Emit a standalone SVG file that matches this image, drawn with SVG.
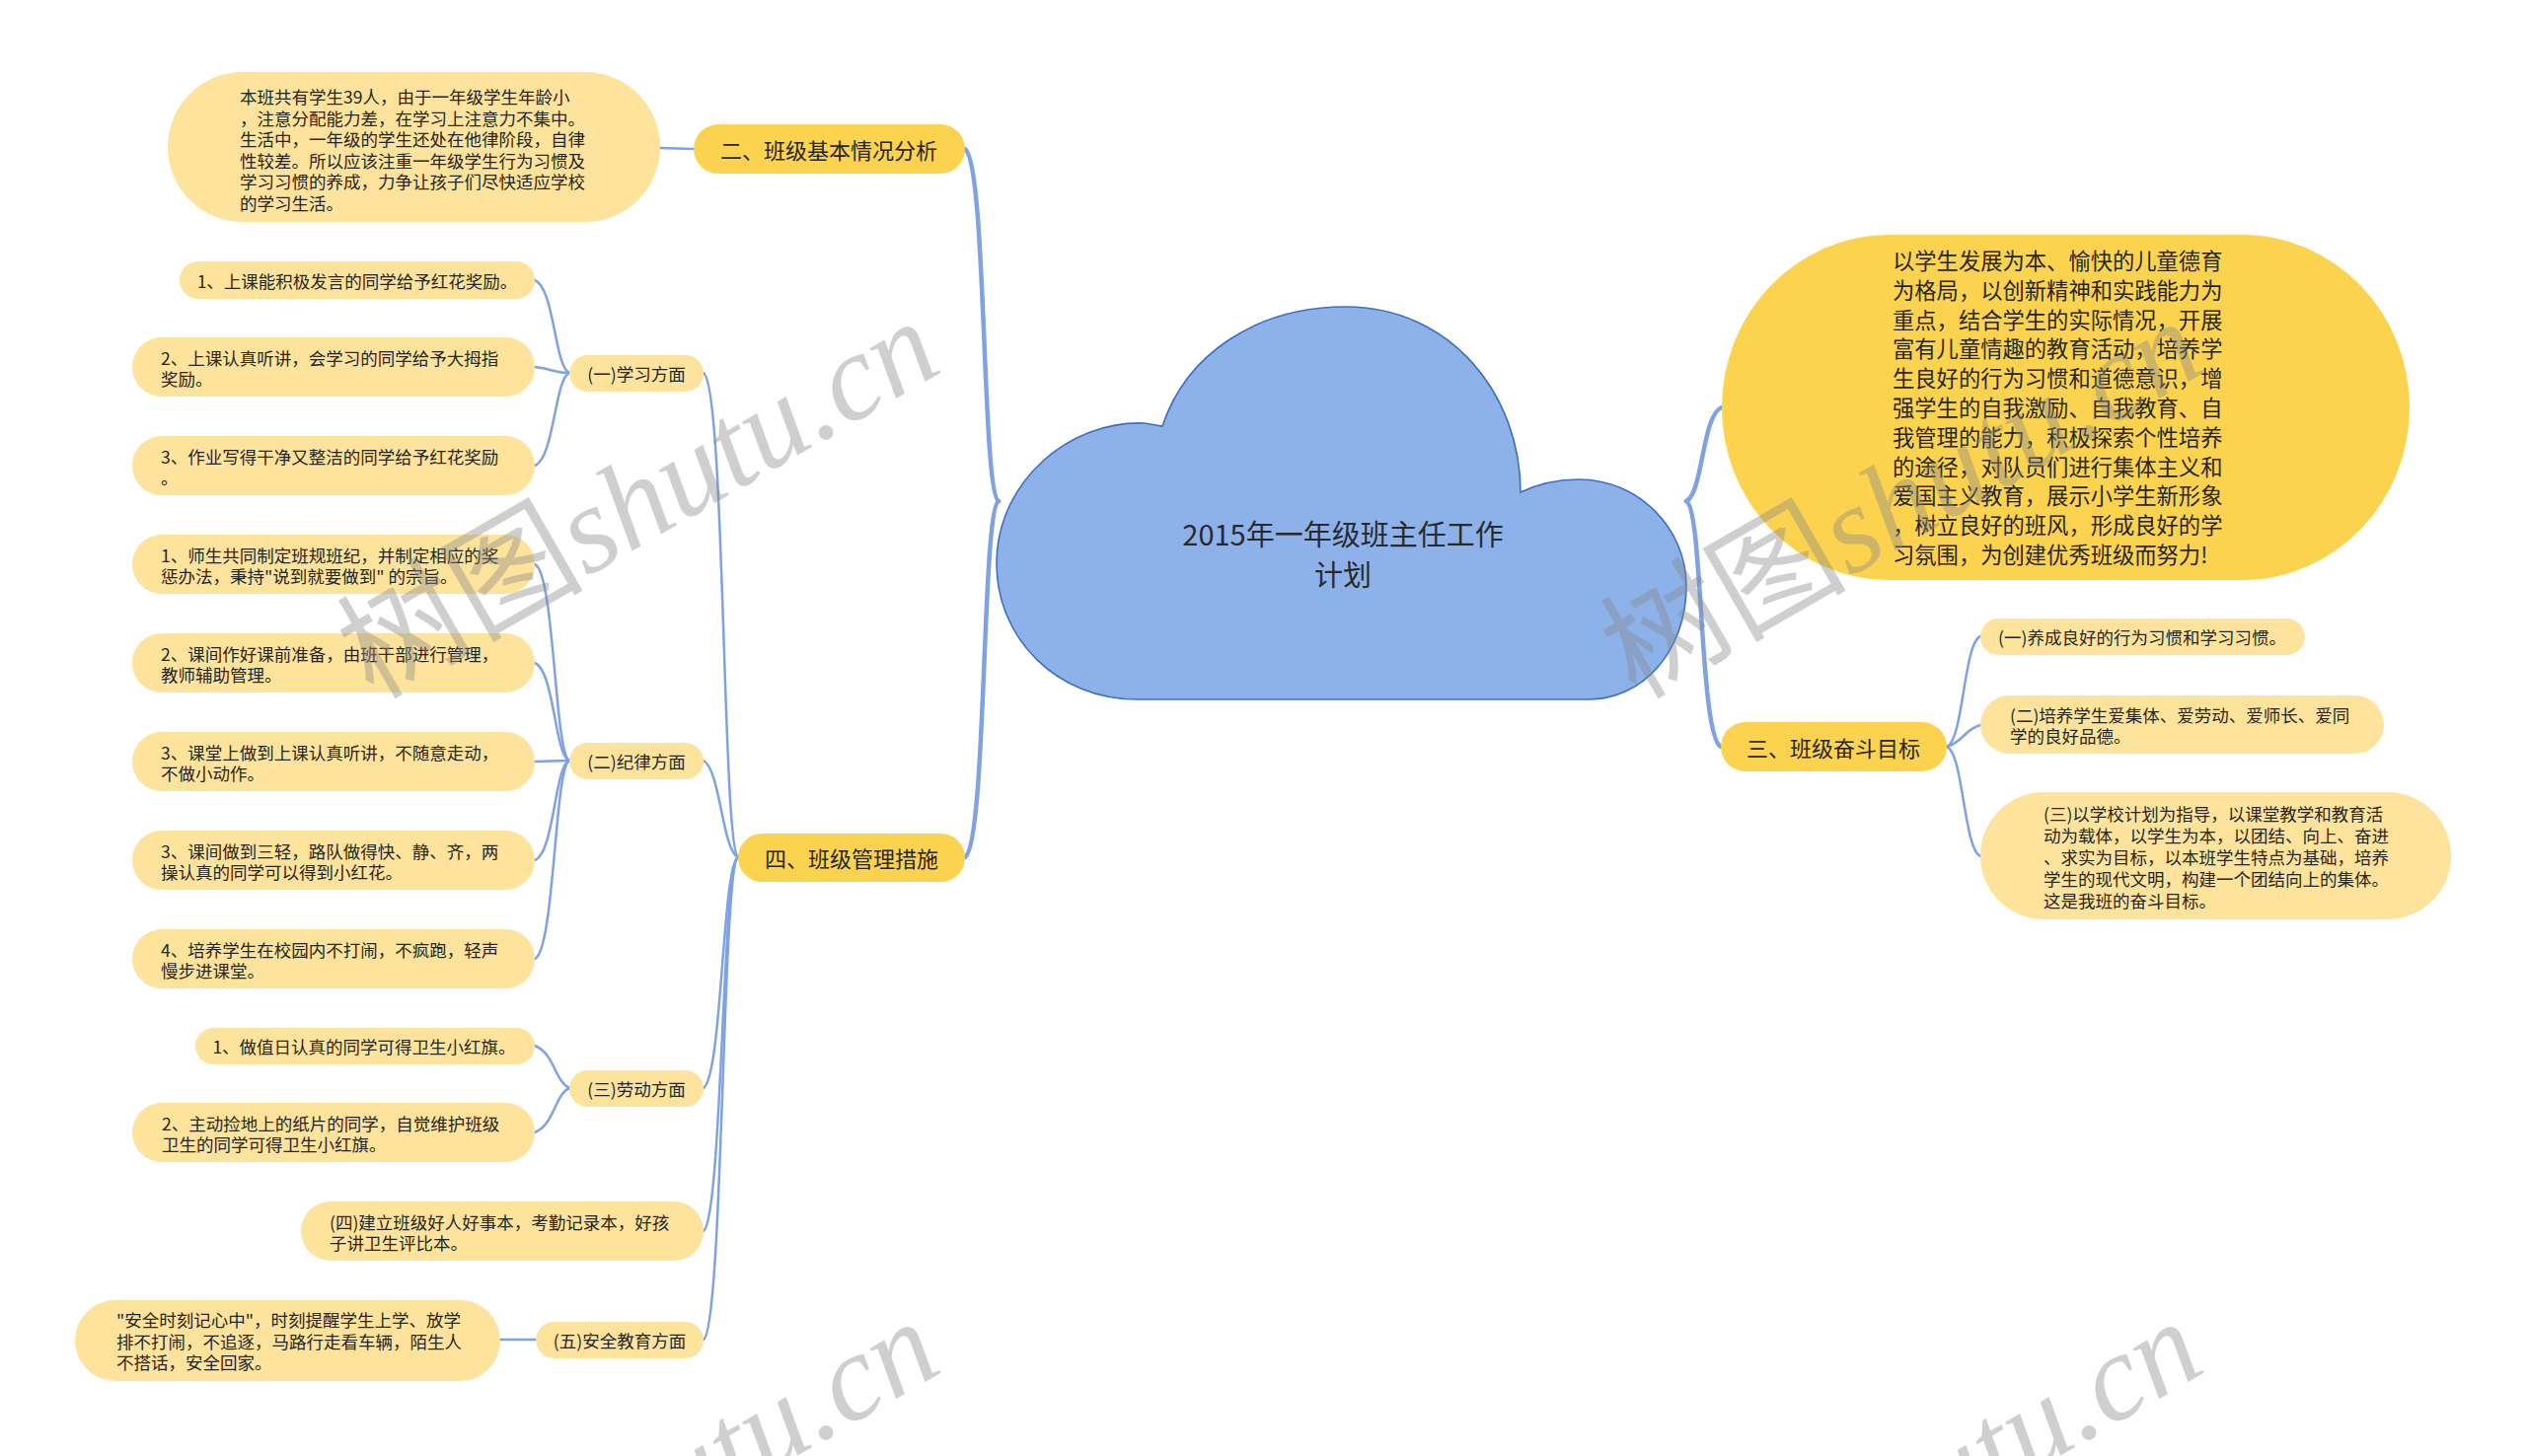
<svg xmlns="http://www.w3.org/2000/svg" width="2560" height="1476" viewBox="0 0 2560 1476">
<style>
.t{font-family:"Noto Sans CJK SC","Noto Sans",sans-serif;fill:#262626}
.s{font-size:17.5px}
.m{font-size:22px}
.p{font-size:22.3px}
.c{font-size:29px;fill:#2a2a2a}
.mid{text-anchor:middle}
.main{fill:#fcd34f}
.sub{fill:#fde39b}
.lk{fill:none;stroke:#7ea2e3;stroke-width:2.5;stroke-linecap:round}
.lk1{fill:none;stroke:#7ea2e3;stroke-width:4.5;stroke-linecap:round}
.wm{font-size:125px;fill:#8a8a8a;opacity:0.4}
</style>
<rect width="2560" height="1476" fill="#ffffff"/>
<g id="connectors">
<path class="lk1" d="M1012 508 C995 500 1000 165 978 151"/>
<path class="lk1" d="M1012 508 C995 516 1000 855 978 869"/>
<path class="lk1" d="M1709 508 C1726 500 1725 420 1745 413"/>
<path class="lk1" d="M1709 508 C1726 516 1722 745 1744 757"/>
<path class="lk" d="M703 151 L669 150"/>
<path class="lk" d="M748 869 C732 860 735 392 713 378"/>
<path class="lk" d="M748 869 C732 862 730 780 713 771"/>
<path class="lk" d="M748 869 C732 876 732 1090 713 1103"/>
<path class="lk" d="M748 869 C732 876 732 1235 713 1248"/>
<path class="lk" d="M748 869 C732 876 733 1345 713 1358"/>
<path class="lk" d="M577 378 C562 372 562 292 542 284"/>
<path class="lk" d="M577 378 C562 378 560 374 542 372"/>
<path class="lk" d="M577 378 C562 384 562 464 542 472"/>
<path class="lk" d="M577 771 C562 764 562 580 542 572"/>
<path class="lk" d="M577 771 C562 766 562 680 542 672"/>
<path class="lk" d="M577 771 L542 772"/>
<path class="lk" d="M577 771 C562 776 562 864 542 872"/>
<path class="lk" d="M577 771 C562 778 562 964 542 972"/>
<path class="lk" d="M577 1103 C562 1096 562 1068 542 1060"/>
<path class="lk" d="M577 1103 C562 1110 562 1140 542 1148"/>
<path class="lk" d="M543 1358 L507 1358"/>
<path class="lk" d="M1973 757 C1990 750 1990 652 2007 645"/>
<path class="lk" d="M1973 757 C1990 752 1990 740 2007 735"/>
<path class="lk" d="M1973 757 C1990 764 1990 860 2007 868"/>
</g>
<g id="root">
<path d="M1152 709 C1072 709 1010 648 1010 571 C1010 490 1082 426 1160 429 L1178 432 C1202 360 1272 311 1364 311 C1470 311 1541 400 1541 499 C1560 490 1580 486 1600 486 C1660 486 1709 535 1709 594 C1709 660 1665 709 1610 709 Z" fill="#8db2ea" stroke="#3d6fc1" stroke-width="1.6"/>
<text class="t c mid" dominant-baseline="central"><tspan x="1361" y="540">2015年一年级班主任工作</tspan><tspan x="1361" y="581">计划</tspan></text>
</g>
<g id="n-er">
<rect class="main" x="703" y="126" width="275" height="50" rx="25"/>
<text class="t m mid" x="840" y="151" dominant-baseline="central">二、班级基本情况分析</text>
</g>
<g id="n-er-detail">
<rect class="sub" x="170" y="73" width="499" height="152" rx="76"/>
<text class="t s" dominant-baseline="central"><tspan x="243" y="97">本班共有学生39人，由于一年级学生年龄小</tspan><tspan x="243" y="118.6">，注意分配能力差，在学习上注意力不集中。</tspan><tspan x="243" y="140.2">生活中，一年级的学生还处在他律阶段，自律</tspan><tspan x="243" y="161.8">性较差。所以应该注重一年级学生行为习惯及</tspan><tspan x="243" y="183.4">学习习惯的养成，力争让孩子们尽快适应学校</tspan><tspan x="243" y="205">的学习生活。</tspan></text>
</g>
<g id="n-si">
<rect class="main" x="748" y="845" width="230" height="49" rx="24.5"/>
<text class="t m mid" x="863" y="869" dominant-baseline="central">四、班级管理措施</text>
</g>
<g id="n-xuexi">
<rect class="sub" x="577" y="360" width="136" height="37" rx="18.5"/>
<text class="t s mid" x="645" y="378.5" dominant-baseline="central">(一)学习方面</text>
</g>
<g id="n-xuexi-1">
<rect class="sub" x="182" y="265" width="360" height="38" rx="19"/>
<text class="t s mid" x="362" y="284" dominant-baseline="central">1、上课能积极发言的同学给予红花奖励。</text>
</g>
<g id="n-xuexi-2">
<rect class="sub" x="134" y="342" width="408" height="60" rx="30"/>
<text class="t s" dominant-baseline="central"><tspan x="163" y="361.5">2、上课认真听讲，会学习的同学给予大拇指</tspan><tspan x="163" y="383">奖励。</tspan></text>
</g>
<g id="n-xuexi-3">
<rect class="sub" x="134" y="442" width="408" height="60" rx="30"/>
<text class="t s" dominant-baseline="central"><tspan x="163" y="461.5">3、作业写得干净又整洁的同学给予红花奖励</tspan><tspan x="163" y="483">。</tspan></text>
</g>
<g id="n-jilv">
<rect class="sub" x="577" y="753" width="136" height="37" rx="18.5"/>
<text class="t s mid" x="645" y="771.5" dominant-baseline="central">(二)纪律方面</text>
</g>
<g id="n-jilv-1">
<rect class="sub" x="134" y="542" width="408" height="60" rx="30"/>
<text class="t s" dominant-baseline="central"><tspan x="163" y="561.5">1、师生共同制定班规班纪，并制定相应的奖</tspan><tspan x="163" y="583">惩办法，秉持"说到就要做到" 的宗旨。</tspan></text>
</g>
<g id="n-jilv-2">
<rect class="sub" x="134" y="642" width="408" height="60" rx="30"/>
<text class="t s" dominant-baseline="central"><tspan x="163" y="661.5">2、课间作好课前准备，由班干部进行管理，</tspan><tspan x="163" y="683">教师辅助管理。</tspan></text>
</g>
<g id="n-jilv-3">
<rect class="sub" x="134" y="742" width="408" height="60" rx="30"/>
<text class="t s" dominant-baseline="central"><tspan x="163" y="761.5">3、课堂上做到上课认真听讲，不随意走动，</tspan><tspan x="163" y="783">不做小动作。</tspan></text>
</g>
<g id="n-jilv-4">
<rect class="sub" x="134" y="842" width="408" height="60" rx="30"/>
<text class="t s" dominant-baseline="central"><tspan x="163" y="861.5">3、课间做到三轻，路队做得快、静、齐，两</tspan><tspan x="163" y="883">操认真的同学可以得到小红花。</tspan></text>
</g>
<g id="n-jilv-5">
<rect class="sub" x="134" y="942" width="408" height="60" rx="30"/>
<text class="t s" dominant-baseline="central"><tspan x="163" y="961.5">4、培养学生在校园内不打闹，不疯跑，轻声</tspan><tspan x="163" y="983">慢步进课堂。</tspan></text>
</g>
<g id="n-laodong">
<rect class="sub" x="577" y="1085" width="136" height="37" rx="18.5"/>
<text class="t s mid" x="645" y="1103.5" dominant-baseline="central">(三)劳动方面</text>
</g>
<g id="n-laodong-1">
<rect class="sub" x="198" y="1042" width="344" height="37" rx="18.5"/>
<text class="t s mid" x="369" y="1060.5" dominant-baseline="central">1、做值日认真的同学可得卫生小红旗。</text>
</g>
<g id="n-laodong-2">
<rect class="sub" x="134" y="1118" width="408" height="60" rx="30"/>
<text class="t s" dominant-baseline="central"><tspan x="164" y="1137.5">2、主动捡地上的纸片的同学，自觉维护班级</tspan><tspan x="164" y="1159">卫生的同学可得卫生小红旗。</tspan></text>
</g>
<g id="n-si-4">
<rect class="sub" x="305" y="1218" width="408" height="60" rx="30"/>
<text class="t s" dominant-baseline="central"><tspan x="334" y="1237.5">(四)建立班级好人好事本，考勤记录本，好孩</tspan><tspan x="334" y="1259">子讲卫生评比本。</tspan></text>
</g>
<g id="n-anquan">
<rect class="sub" x="543" y="1340" width="170" height="37" rx="18.5"/>
<text class="t s mid" x="628" y="1358.5" dominant-baseline="central">(五)安全教育方面</text>
</g>
<g id="n-anquan-1">
<rect class="sub" x="76" y="1318" width="431" height="82" rx="41"/>
<text class="t s" dominant-baseline="central"><tspan x="118" y="1337">"安全时刻记心中"，时刻提醒学生上学、放学</tspan><tspan x="118" y="1358.5">排不打闹，不追逐，马路行走看车辆，陌生人</tspan><tspan x="118" y="1380">不搭话，安全回家。</tspan></text>
</g>
<g id="n-right-para">
<rect class="main" x="1745" y="238" width="697" height="350" rx="170" ry="175"/>
<text class="t p" dominant-baseline="central"><tspan x="1918" y="263">以学生发展为本、愉快的儿童德育</tspan><tspan x="1918" y="292.8">为格局，以创新精神和实践能力为</tspan><tspan x="1918" y="322.6">重点，结合学生的实际情况，开展</tspan><tspan x="1918" y="352.4">富有儿童情趣的教育活动，培养学</tspan><tspan x="1918" y="382.2">生良好的行为习惯和道德意识，增</tspan><tspan x="1918" y="412">强学生的自我激励、自我教育、自</tspan><tspan x="1918" y="441.8">我管理的能力，积极探索个性培养</tspan><tspan x="1918" y="471.6">的途径，对队员们进行集体主义和</tspan><tspan x="1918" y="501.4">爱国主义教育，展示小学生新形象</tspan><tspan x="1918" y="531.2">，树立良好的班风，形成良好的学</tspan><tspan x="1918" y="561">习氛围，为创建优秀班级而努力!</tspan></text>
</g>
<g id="n-san">
<rect class="main" x="1744" y="732" width="229" height="50" rx="25"/>
<text class="t m mid" x="1858" y="757" dominant-baseline="central">三、班级奋斗目标</text>
</g>
<g id="n-san-1">
<rect class="sub" x="2007" y="627" width="329" height="37" rx="18.5"/>
<text class="t s mid" x="2171" y="645.5" dominant-baseline="central">(一)养成良好的行为习惯和学习习惯。</text>
</g>
<g id="n-san-2">
<rect class="sub" x="2007" y="705" width="409" height="59" rx="29.5"/>
<text class="t s" dominant-baseline="central"><tspan x="2037" y="723.5">(二)培养学生爱集体、爱劳动、爱师长、爱同</tspan><tspan x="2037" y="745">学的良好品德。</tspan></text>
</g>
<g id="n-san-3">
<rect class="sub" x="2007" y="803" width="477" height="129" rx="64.5"/>
<text class="t s" dominant-baseline="central"><tspan x="2071" y="824">(三)以学校计划为指导，以课堂教学和教育活</tspan><tspan x="2071" y="846">动为载体，以学生为本，以团结、向上、奋进</tspan><tspan x="2071" y="868">、求实为目标，以本班学生特点为基础，培养</tspan><tspan x="2071" y="890">学生的现代文明，构建一个团结向上的集体。</tspan><tspan x="2071" y="912">这是我班的奋斗目标。</tspan></text>
</g>
<g id="watermarks">
<text class="wm" transform="translate(378 710) rotate(-30)"><tspan font-family="Noto Sans CJK SC,sans-serif">树图</tspan><tspan font-family="Liberation Serif,serif" font-style="italic">shutu.cn</tspan></text>
<text class="wm" transform="translate(1658 710) rotate(-30)"><tspan font-family="Noto Sans CJK SC,sans-serif">树图</tspan><tspan font-family="Liberation Serif,serif" font-style="italic">shutu.cn</tspan></text>
<text class="wm" transform="translate(378 1724) rotate(-30)"><tspan font-family="Noto Sans CJK SC,sans-serif">树图</tspan><tspan font-family="Liberation Serif,serif" font-style="italic">shutu.cn</tspan></text>
<text class="wm" transform="translate(1658 1724) rotate(-30)"><tspan font-family="Noto Sans CJK SC,sans-serif">树图</tspan><tspan font-family="Liberation Serif,serif" font-style="italic">shutu.cn</tspan></text>
</g>
</svg>
